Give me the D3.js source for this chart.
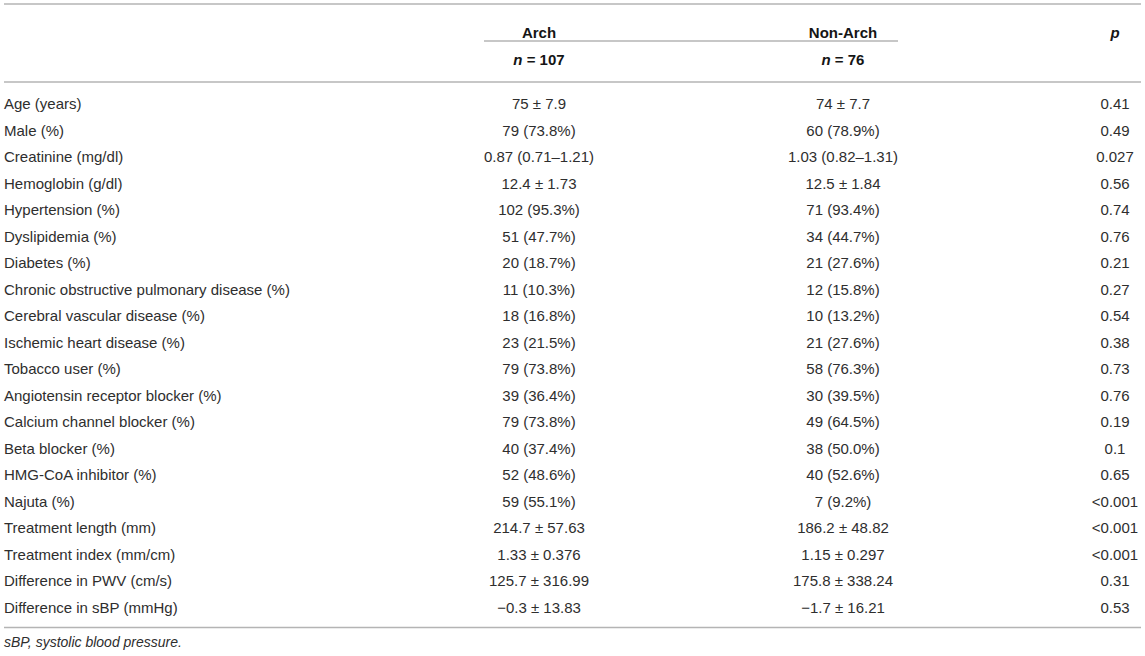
<!DOCTYPE html>
<meta charset="utf-8">
<head>
    <title>Baseline characteristics</title>
    <script src="https://cdn.jsdelivr.net/npm/d3@7"></script>
    <style>
        body { margin: 0; background: #fff; }
        svg text { font-family: "Liberation Sans", Arial, sans-serif; font-size: 15px; fill: #2e2e2e; }
        .head { font-weight: bold; fill: #151515; }
        .rule { stroke: #b4b4b4; stroke-width: 1.5; }
    </style>
</head>
<body>
    <div id="table"></div>

    <script>
        // table contents
        var variables = ["Age (years)", "Male (%)", "Creatinine (mg/dl)", "Hemoglobin (g/dl)",
            "Hypertension (%)", "Dyslipidemia (%)", "Diabetes (%)",
            "Chronic obstructive pulmonary disease (%)", "Cerebral vascular disease (%)",
            "Ischemic heart disease (%)", "Tobacco user (%)", "Angiotensin receptor blocker (%)",
            "Calcium channel blocker (%)", "Beta blocker (%)", "HMG-CoA inhibitor (%)",
            "Najuta (%)", "Treatment length (mm)", "Treatment index (mm/cm)",
            "Difference in PWV (cm/s)", "Difference in sBP (mmHg)"];

        var archValues = ["75 ± 7.9", "79 (73.8%)", "0.87 (0.71–1.21)", "12.4 ± 1.73",
            "102 (95.3%)", "51 (47.7%)", "20 (18.7%)", "11 (10.3%)", "18 (16.8%)",
            "23 (21.5%)", "79 (73.8%)", "39 (36.4%)", "79 (73.8%)", "40 (37.4%)",
            "52 (48.6%)", "59 (55.1%)", "214.7 ± 57.63", "1.33 ± 0.376",
            "125.7 ± 316.99", "−0.3 ± 13.83"];

        var nonArchValues = ["74 ± 7.7", "60 (78.9%)", "1.03 (0.82–1.31)", "12.5 ± 1.84",
            "71 (93.4%)", "34 (44.7%)", "21 (27.6%)", "12 (15.8%)", "10 (13.2%)",
            "21 (27.6%)", "58 (76.3%)", "30 (39.5%)", "49 (64.5%)", "38 (50.0%)",
            "40 (52.6%)", "7 (9.2%)", "186.2 ± 48.82", "1.15 ± 0.297",
            "175.8 ± 338.24", "−1.7 ± 16.21"];

        var pValues = ["0.41", "0.49", "0.027", "0.56", "0.74", "0.76", "0.21", "0.27",
            "0.54", "0.38", "0.73", "0.76", "0.19", "0.1", "0.65", "<0.001",
            "<0.001", "<0.001", "0.31", "0.53"];

        var groups = ["Arch", "Non-Arch"];
        var groupN = [107, 76];
        var footnote = "sBP, systolic blood pressure.";

        var width = 1145;
        var height = 656;

        var svg = d3.select("#table")
            .append("svg")
            .attr("width", width)
            .attr("height", height);

        // row positions
        var y = d3.scalePoint()
            .domain(variables)
            .range([104, 607.5]);

        // column centres
        var colX = { label: 4, arch: 539, nonArch: 843, p: 1115 };
        var groupX = d3.scaleOrdinal().domain(groups).range([colX.arch, colX.nonArch]);

        // rules
        svg.append("line").attr("class", "rule").attr("x1", 4).attr("x2", 1141).attr("y1", 4).attr("y2", 4);
        svg.append("line").attr("class", "rule").attr("x1", 484).attr("x2", 898).attr("y1", 41).attr("y2", 41);
        svg.append("line").attr("class", "rule").attr("x1", 4).attr("x2", 1141).attr("y1", 82).attr("y2", 82);
        svg.append("line").attr("class", "rule").attr("x1", 4).attr("x2", 1141).attr("y1", 627.5).attr("y2", 627.5);

        // header
        svg.selectAll(".group")
            .data(groups)
            .enter().append("text")
            .attr("class", "head")
            .attr("x", function(d) { return groupX(d); })
            .attr("y", 33)
            .attr("dy", "0.35em")
            .attr("text-anchor", "middle")
            .text(function(d) { return d; });

        svg.append("text")
            .attr("class", "head")
            .attr("x", colX.p)
            .attr("y", 33)
            .attr("dy", "0.35em")
            .attr("text-anchor", "middle")
            .style("font-style", "italic")
            .text("p");

        var nText = svg.selectAll(".ncount")
            .data(groups)
            .enter().append("text")
            .attr("class", "head")
            .attr("x", function(d) { return groupX(d); })
            .attr("y", 60)
            .attr("dy", "0.35em")
            .attr("text-anchor", "middle");
        nText.append("tspan").style("font-style", "italic").text("n");
        nText.append("tspan").text(function(d, i) { return " = " + groupN[i]; });

        // body rows
        var rows = svg.selectAll(".row")
            .data(variables)
            .enter().append("g")
            .attr("class", "row")
            .attr("transform", function(d) { return "translate(0," + y(d) + ")"; });

        rows.append("text")
            .attr("x", colX.label)
            .attr("dy", "0.35em")
            .text(function(d) { return d; });

        rows.append("text")
            .attr("x", colX.arch)
            .attr("dy", "0.35em")
            .attr("text-anchor", "middle")
            .text(function(d, i) { return archValues[i]; });

        rows.append("text")
            .attr("x", colX.nonArch)
            .attr("dy", "0.35em")
            .attr("text-anchor", "middle")
            .text(function(d, i) { return nonArchValues[i]; });

        rows.append("text")
            .attr("x", colX.p)
            .attr("dy", "0.35em")
            .attr("text-anchor", "middle")
            .text(function(d, i) { return pValues[i]; });

        // footnote
        svg.append("text")
            .attr("x", colX.label)
            .attr("y", 642)
            .attr("dy", "0.35em")
            .style("font-style", "italic")
            .style("font-size", "14px")
            .text(footnote);
    </script>
</body>
</html>
